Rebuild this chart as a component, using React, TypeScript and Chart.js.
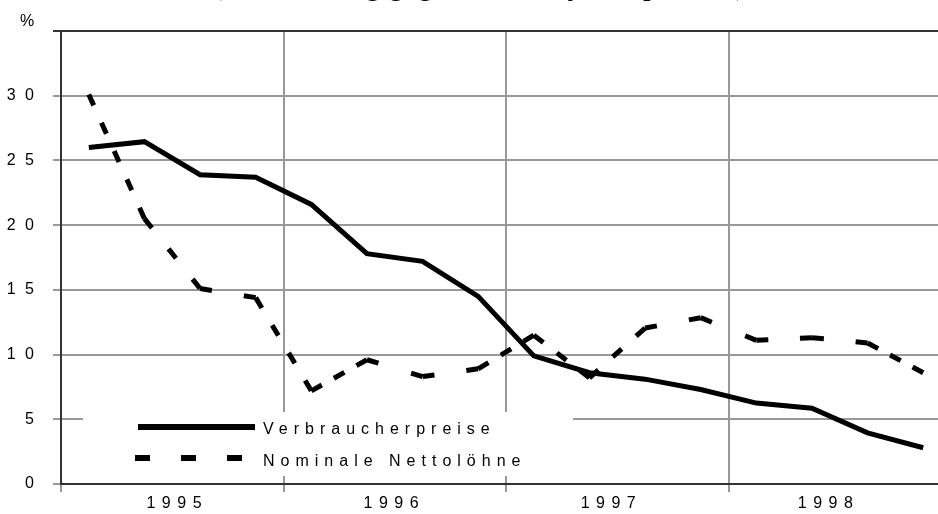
import React, { useEffect, useRef } from 'react';
import { Chart, registerables } from 'chart.js';

Chart.register(...registerables);

// ---- data ----
const quarters = [
  '1995 Q1', '1995 Q2', '1995 Q3', '1995 Q4',
  '1996 Q1', '1996 Q2', '1996 Q3', '1996 Q4',
  '1997 Q1', '1997 Q2', '1997 Q3', '1997 Q4',
  '1998 Q1', '1998 Q2', '1998 Q3', '1998 Q4',
];
const years = ['1995', '1996', '1997', '1998'];
const verbraucherpreise = [26.0, 26.45, 23.9, 23.7, 21.6, 17.8, 17.2, 14.5, 9.9, 8.6, 8.1, 7.3, 6.25, 5.85, 3.95, 2.8];
const nettoloehne = [30.1, 20.5, 15.1, 14.4, 7.2, 9.6, 8.3, 8.9, 11.5, 8.2, 12.05, 12.85, 11.1, 11.3, 10.9, 8.6];
const yTickValues = [0, 5, 10, 15, 20, 25, 30];
const yMax = 35;
const seriesLabels = ['Verbraucherpreise', 'Nominale Nettolöhne'];
const unitLabel = '%';
const titleText = '(Veränderung gegenüber Vorjahresperiode)';

const W = 951;
const H = 514;
const SANS = '"Liberation Sans", Arial, sans-serif';

function dashFor(ctx: any) {
  const dx = ctx.p1.x - ctx.p0.x;
  const dy = ctx.p1.y - ctx.p0.y;
  const L = Math.hypot(dx, dy);
  const d = 12;
  const gt = 21;
  const n = Math.max(1, Math.round((L - d) / (d + gt)));
  const g = Math.max(4, (L - d * (n + 1)) / n);
  return [d, g];
}

// where the year labels sit on the quarter axis (label placement only)
const yearLabelAt = (i: number) => 2.09 + 3.903 * i;

const decorPlugin = {
  id: 'decor',
  beforeDraw(chart: any) {
    const patch = (id: string, sp: string) => {
      const s = chart.scales[id];
      if (s && !s.__sp) {
        const orig = s.drawLabels.bind(s);
        s.drawLabels = (area: any) => {
          const c = chart.ctx;
          c.save();
          c.letterSpacing = sp;
          orig(area);
          c.restore();
        };
        s.__sp = true;
      }
    };
    patch('x', '6.5px');
    patch('y', '9.4px');
  },
  afterDatasetsDraw(chart: any) {
    const c = chart.ctx;
    c.save();
    // legend box
    c.fillStyle = '#ffffff';
    c.fillRect(83, 412, 490, 64);
    c.strokeStyle = '#000';
    c.lineWidth = 6;
    c.lineCap = 'butt';
    c.setLineDash([]);
    c.beginPath();
    c.moveTo(138, 427);
    c.lineTo(255, 427);
    c.stroke();
    c.setLineDash([15, 31]);
    c.beginPath();
    c.moveTo(135, 458);
    c.lineTo(243, 458);
    c.stroke();
    c.setLineDash([]);
    c.fillStyle = '#000';
    c.font = '16px ' + SANS;
    c.letterSpacing = '6px';
    c.textBaseline = 'middle';
    c.textAlign = 'left';
    const ds = chart.data.datasets;
    c.fillText(ds[0].label, 263, 430);
    c.fillText(ds[1].label, 263, 462);
    // unit label
    c.letterSpacing = '0px';
    c.textAlign = 'center';
    c.fillText(unitLabel, 27, 22);
    c.restore();
  },
};

export default function App() {
  const ref = useRef<HTMLCanvasElement>(null);

  useEffect(() => {
    const canvas = ref.current!;
    const chart = new Chart(canvas, {
      type: 'line',
      data: {
        labels: quarters,
        datasets: [
          {
            label: seriesLabels[0],
            data: verbraucherpreise.map((v, i) => ({ x: i + 0.5, y: v })),
            borderColor: '#000',
            borderWidth: 5,
            pointRadius: 0,
            tension: 0,
            fill: false,
            borderJoinStyle: 'miter',
            borderCapStyle: 'butt',
          },
          {
            label: seriesLabels[1],
            data: nettoloehne.map((v, i) => ({ x: i + 0.5, y: v })),
            borderColor: '#000',
            borderWidth: 5,
            pointRadius: 0,
            tension: 0,
            fill: false,
            borderJoinStyle: 'miter',
            borderCapStyle: 'butt',
            segment: { borderDash: dashFor },
          },
        ],
      },
      options: {
        animation: false,
        responsive: false,
        devicePixelRatio: 1,
        layout: { padding: { top: 31, right: 0, bottom: 0, left: 0 } },
        plugins: {
          legend: { display: false },
          title: { display: false },
          tooltip: { enabled: false },
        },
        scales: {
          x: {
            type: 'linear',
            min: 0,
            max: 16,
            afterBuildTicks: (s: any) => {
              const t: any[] = [];
              for (let k = 0; k <= 16; k += 4) t.push({ value: k, grid: true });
              years.forEach((_, i) => t.push({ value: yearLabelAt(i), year: i }));
              s.ticks = t;
            },
            afterFit: (s: any) => {
              s.height = 30;
            },
            ticks: {
              autoSkip: false,
              maxRotation: 0,
              minRotation: 0,
              padding: 2,
              color: '#000',
              font: { family: SANS, size: 16 },
              callback: function (this: any, v: any, idx: number, ticks: any[]) {
                const t = ticks[idx];
                return t && t.year !== undefined ? years[t.year] : '';
              },
            },
            grid: {
              color: (ctx: any) => (ctx.tick && ctx.tick.grid ? '#999999' : 'rgba(0,0,0,0)'),
              lineWidth: 2,
              tickLength: 8,
            },
            border: { display: true, color: '#333', width: 2 },
          },
          y: {
            type: 'linear',
            min: 0,
            max: yMax,
            afterBuildTicks: (s: any) => {
              s.ticks = [...yTickValues, yMax].map((v) => ({ value: v }));
            },
            afterFit: (s: any) => {
              s.width = 61;
            },
            ticks: {
              padding: 9.6,
              color: '#000',
              font: { family: SANS, size: 16 },
              callback: (v: any) => (v === yMax ? '' : String(v)),
            },
            grid: {
              color: (ctx: any) => (ctx.tick && ctx.tick.value === yMax ? '#333' : '#999999'),
              lineWidth: 2,
              tickLength: 8,
            },
            border: { display: true, color: '#333', width: 2 },
          },
        },
      },
      plugins: [decorPlugin],
    } as any);
    return () => chart.destroy();
  }, []);

  return (
    <div
      style={{
        position: 'fixed',
        left: 0,
        top: 0,
        width: 938,
        height: 514,
        overflow: 'hidden',
        background: '#fff',
      }}
    >
      <canvas
        ref={ref}
        width={W}
        height={H}
        style={{ position: 'absolute', left: 0, top: 0, width: W, height: H }}
      />
      <div
        style={{
          position: 'absolute',
          left: 212,
          top: -32,
          fontFamily: '"Liberation Serif", "Times New Roman", serif',
          fontSize: 31,
          lineHeight: '31px',
          whiteSpace: 'nowrap',
          color: '#000',
        }}
      >
        {titleText}
      </div>
    </div>
  );
}
